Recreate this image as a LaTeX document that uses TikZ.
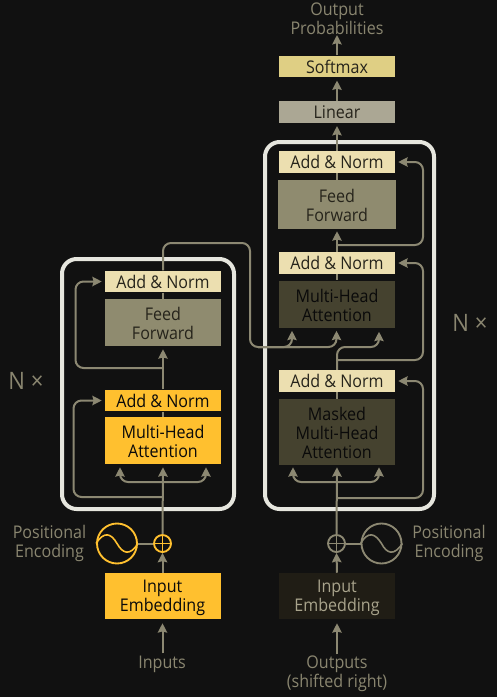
\documentclass[tikz,border=0pt]{standalone}
\usepackage{fontspec}
\setmainfont{Open Sans}[FakeStretch=0.92]
\usetikzlibrary{arrows.meta}
\newlength\px \setlength\px{0.75pt}
\newcommand\dn{\rule{0pt}{11.5pt}}
\definecolor{bgc}{HTML}{111111}
\definecolor{linec}{HTML}{8C8872}
\definecolor{labelc}{HTML}{8A8670}
\definecolor{framec}{HTML}{E6E6DE}
\definecolor{yellowc}{HTML}{FFC02F}
\definecolor{creamc}{HTML}{ECDFB0}
\definecolor{ffc}{HTML}{8F8B6F}
\definecolor{softc}{HTML}{DFCF84}
\definecolor{linc}{HTML}{ABA794}
\definecolor{darkc}{HTML}{45422F}
\definecolor{embc}{HTML}{201D15}
\definecolor{embt}{HTML}{A9A48C}
\definecolor{inkc}{HTML}{0A0A0A}
\definecolor{softink}{HTML}{26241B}
\tikzset{
  x=0.75pt,y=-0.75pt,
  txt/.style={font=\fontsize{13.1pt}{14.3pt}\selectfont,align=center,inner sep=0pt},
  blk/.style={txt,minimum width=116\px,anchor=center},
  thin box/.style={blk,minimum height=21.5\px},
  tall box/.style={blk,minimum height=47\px},
  yel/.style={fill=yellowc,text=inkc},
  cream/.style={fill=creamc,text=softink},
  ffb/.style={fill=ffc,text=softink},
  dark/.style={fill=darkc,text=inkc},
  lab/.style={txt,text=labelc},
  nx/.style={inner sep=0pt,text=labelc,font=\fontsize{18pt}{20pt}\selectfont},
  wire/.style={draw=linec,line width=1.5pt,rounded corners=6pt},
  arr/.style={wire,-{Stealth[length=7pt,width=7pt,inset=0.9pt]}},
  frame/.style={draw=framec,line width=3pt,rounded corners=11pt,inner sep=0pt},
  circ/.style={circle,draw=#1,line width=1.4pt,inner sep=0pt,fill=bgc},
}
\begin{document}
\begin{tikzpicture}
\useasboundingbox (0,0) rectangle (497,697);
\fill[bgc] (0,0) rectangle (497,697);

% frames
\node[frame,minimum width=172\px,minimum height=250\px] (enc) at (148,384) {};
\node[frame,minimum width=169\px,minimum height=367\px] (dec) at (349.5,325.5) {};

% named junctions and free ends
\coordinate (outP) at (337,35);
\coordinate (j1) at (162.5,482);
\coordinate (j2) at (162.5,497);
\coordinate (j3) at (162.5,368);
\coordinate (r1) at (73.5,400.5);
\coordinate (r2) at (75.5,281.5);
\coordinate (t1) at (250,243);
\coordinate (t2) at (258,347);
\coordinate (t3) at (300,347);
\coordinate (d1) at (337,482);
\coordinate (d2) at (337,498);
\coordinate (d3) at (337,360);
\coordinate (d4) at (337,245);
\coordinate (c1) at (423,381);
\coordinate (c2) at (423,263);
\coordinate (c3) at (423,162);
\coordinate (m1) at (379,347);

% encoder boxes
\node[thin box,cream] (an2) at (163,281.5) {\raisebox{-1\px}{Add \& Norm}};
\node[tall box,ffb] (ff1) at (163,322.5) {\dn Feed\\Forward};
\node[thin box,yel] (an1) at (163,400.5) {\raisebox{-1\px}{Add \& Norm}};
\node[tall box,yel] (mha1) at (163,440.5) {\dn Multi-Head\\Attention};
\node[blk,yel,minimum height=46\px] (ie1) at (162.5,596) {\dn Input\\Embedding};
\node[lab] (inputs) at (162,664) {Inputs};

% decoder boxes
\node[thin box,fill=softc,text=softink] (soft) at (337,66.5) {\raisebox{-1\px}{Softmax}};
\node[thin box,fill=linc,text=softink] (lin) at (337,112) {\raisebox{-1\px}{Linear}};
\node[thin box,cream] (an5) at (337,162) {\raisebox{-1\px}{Add \& Norm}};
\node[blk,ffb,minimum width=118\px,minimum height=49\px] (ff2) at (337,204.5) {\dn Feed\\Forward};
\node[thin box,cream] (an4) at (337,263) {\raisebox{-1\px}{Add \& Norm}};
\node[tall box,dark] (mha3) at (337,304) {\dn Multi-Head\\Attention};
\node[thin box,cream] (an3) at (337,381) {\raisebox{-1\px}{Add \& Norm}};
\node[blk,dark,minimum height=66\px] (mmha) at (337,432) {\dn Masked\\Multi-Head\\Attention};
\node[blk,fill=embc,text=embt,minimum height=46\px] (ie2) at (337,596) {\dn Input\\Embedding};
\node[lab] (outs) at (337,673.5) {Outputs\\(shifted right)};
\node[lab] (probs) at (337,19) {Output\\Probabilities};

% positional encoding
\node[circ=yellowc,minimum size=40\px] (pe1) at (117,543.5) {};
\node[circ=yellowc,minimum size=17\px] (add1) at (162.5,543.5) {};
\node[circ=linec,minimum size=40\px] (pe2) at (381.5,543.5) {};
\node[circ=linec,minimum size=17\px] (add2) at (336.5,543.5) {};
\node[lab] (pl1) at (49.5,543) {Positional\\Encoding};
\node[lab] (pl2) at (449,543) {Positional\\Encoding};
\node[nx] (n1) at (26,381) {N ×};
\node[nx] (n2) at (470,323) {N ×};

% sine and plus marks
\draw[yellowc,line width=1.2pt] (pe1.west) .. controls (104,531) and (111,533) .. (pe1.center) .. controls (123,554) and (130,556) .. (pe1.east);
\draw[linec,line width=1.2pt] (pe2.west) .. controls (368,531) and (375,533) .. (pe2.center) .. controls (387,554) and (394,556) .. (pe2.east);
\draw[yellowc,line width=1pt] (add1.north) -- (add1.south) (add1.west) -- (add1.east);
\draw[linec,line width=1pt] (add2.north) -- (add2.south) (add2.west) -- (add2.east);

% connectors: encoder
\draw[arr] ([xshift=0.5\px,yshift=2\px]inputs.north) -- ([yshift=-4\px]ie1.south);
\draw[arr] (ie1.north) -- (add1.south);
\draw[wire] (pe1.east) -- (add1.west);
\draw[arr] (add1.north) -- ([yshift=-3\px]mha1.south);
\draw[arr] (j1) -| ([xshift=-43\px,yshift=-3\px]mha1.south);
\draw[arr] (j1) -| ([xshift=43\px,yshift=-3\px]mha1.south);
\draw[arr] (j2) -| (r1) -- ([xshift=-3\px]an1.west);
\draw[arr] (an1.north) -- ([yshift=-3\px]ff1.south);
\draw[arr] (j3) -| (r2) -- ([xshift=-3\px]an2.west);
\draw[wire] (an1.south) -- (mha1.north);
\draw[wire] (an2.south) -- (ff1.north);

% connectors: encoder to decoder
\draw[wire] (an2.north) |- (t1) |- (t3);
\draw[arr] (t2) -| ([xshift=-45\px,yshift=-3\px]mha3.south);
\draw[arr] (t2) -| ([xshift=-0.5\px,yshift=-3\px]mha3.south);

% connectors: decoder
\draw[arr] ([yshift=1\px]outs.north) -- ([yshift=-4\px]ie2.south);
\draw[arr] (ie2.north) -- (add2.south);
\draw[wire] (pe2.west) -- (add2.east);
\draw[arr] (add2.north) -- ([yshift=-2\px]mmha.south);
\draw[arr] (d1) -| ([xshift=-44\px,yshift=-2\px]mmha.south);
\draw[arr] (d1) -| ([xshift=42\px,yshift=-2\px]mmha.south);
\draw[arr] (d2) -| (c1) -- ([xshift=3\px]an3.east);
\draw[wire] (an3.south) -- (mmha.north);
\draw[arr] (an3.north) |- (m1) -- ([xshift=42\px,yshift=-4\px]mha3.south);
\draw[arr] (d3) -| (c2) -- ([xshift=3\px]an4.east);
\draw[wire] (an4.south) -- (mha3.north);
\draw[arr] (an4.north) -- ([yshift=-2\px]ff2.south);
\draw[arr] (d4) -| (c3) -- ([xshift=3\px]an5.east);
\draw[wire] (an5.south) -- (ff2.north);
\draw[arr] (an5.north) -- ([yshift=-3\px]lin.south);
\draw[arr] (lin.north) -- ([yshift=-3\px]soft.south);
\draw[arr] (soft.north) -- (outP);
\end{tikzpicture}
\end{document}
